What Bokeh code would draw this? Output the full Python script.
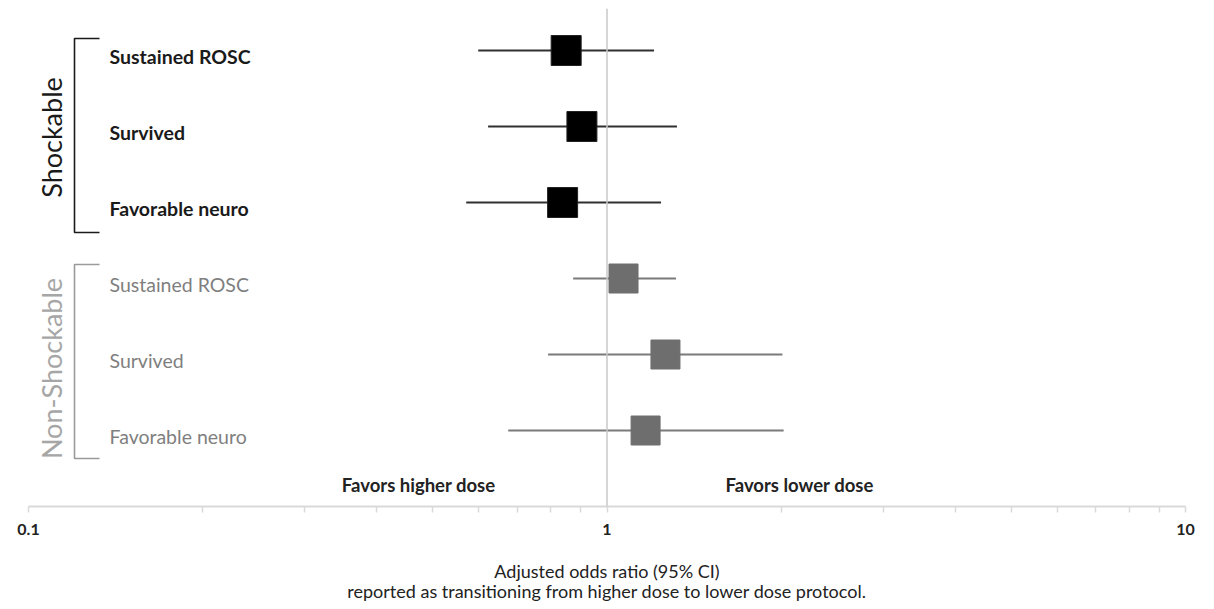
import math
from bokeh.plotting import figure
from bokeh.models import Range1d, FixedTicker, CustomJSTickFormatter, Span
from bokeh.core.properties import value
from bokeh.embed import file_html
from bokeh.resources import INLINE

# ---- data ----
groups = ["Shockable", "Non-Shockable"]
outcomes = ["Sustained ROSC", "Survived", "Favorable neuro"]
shock_or = [0.850, 0.905, 0.838]
shock_lo = [0.599, 0.623, 0.571]
shock_hi = [1.206, 1.321, 1.240]
nonshock_or = [1.068, 1.262, 1.166]
nonshock_lo = [0.874, 0.791, 0.675]
nonshock_hi = [1.316, 2.010, 2.020]
tick_values = [0.1, 1, 10]
tick_labels = ["0.1", "1", "10"]
minor_tick_values = [0.2, 0.3, 0.4, 0.5, 0.6, 0.7, 0.8, 0.9, 2, 3, 4, 5, 6, 7, 8, 9]
favor_left = "Favors higher dose"
favor_right = "Favors lower dose"
x_title = "Adjusted odds ratio (95% CI)\nreported as transitioning from higher dose to lower dose protocol."

FONT = "Lato"
W, H = 1206, 605
ML, MR, MT, MB = 28, 21, 8, 99
frame_w = W - ML - MR

def px_x(px):
    # canvas pixel -> data x (layout helper for annotations)
    return 0.1 * 100 ** ((px - ML) / frame_w)

ROW0, PITCH = 50, 76
def px_y(py):
    return (py - ROW0) / PITCH

p = figure(width=W, height=H, x_axis_type="log", output_backend="svg",
           toolbar_location=None, x_range=Range1d(0.1, 10),
           y_range=Range1d(px_y(H - MB), px_y(MT)),
           min_border_left=ML, min_border_right=MR, min_border_top=MT, min_border_bottom=MB)
p.outline_line_color = None
p.grid.visible = False
p.yaxis.visible = False
p.background_fill_color = "white"
p.border_fill_color = "white"

ax = p.xaxis[0]
ax.ticker = FixedTicker(ticks=tick_values, minor_ticks=minor_tick_values)
ax.formatter = CustomJSTickFormatter(args=dict(vals=tick_values, labs=tick_labels),
    code="for (let i=0;i<vals.length;i++){ if (Math.abs(tick-vals[i])<1e-9) return labs[i]; } return '';")
ax.axis_line_color = "#d9d9d9"
ax.axis_line_width = 2
ax.major_tick_line_color = "#d9d9d9"
ax.minor_tick_line_color = "#d9d9d9"
ax.major_tick_line_width = 1.5
ax.minor_tick_line_width = 1.5
ax.major_tick_in = 0
ax.major_tick_out = 6
ax.minor_tick_in = 0
ax.minor_tick_out = 6
ax.major_label_text_font = FONT
ax.major_label_text_font_size = "16px"
ax.major_label_text_font_style = "bold"
ax.major_label_text_color = "#222222"
ax.major_label_standoff = 11
ax.axis_label = x_title
ax.axis_label_text_font = FONT
ax.axis_label_text_font_size = "18px"
ax.axis_label_text_font_style = "normal"
ax.axis_label_text_color = "#222222"
ax.axis_label_text_line_height = 0.95
ax.axis_label_standoff = 22

# reference line at OR = 1
p.add_layout(Span(location=1, dimension="height", line_color="#c8c8c8", line_width=1.5))

n = len(outcomes)
rows_s = list(range(n))
rows_n = [n + i for i in range(n)]

# CIs and points
p.segment(x0=shock_lo, y0=rows_s, x1=shock_hi, y1=rows_s, line_color="#303030", line_width=2.2)
p.segment(x0=nonshock_lo, y0=rows_n, x1=nonshock_hi, y1=rows_n, line_color="#7a7a7a", line_width=2.2)
p.scatter(x=shock_or, y=rows_s, marker="square", size=30, fill_color="black", line_color="#222222", line_width=1)
p.scatter(x=nonshock_or, y=rows_n, marker="square", size=29, fill_color="#6e6e6e", line_color="#6e6e6e", line_width=1)

# outcome labels
lab_x = px_x(109)
p.text(x=[lab_x] * n, y=[r + 0.08 for r in rows_s], text=outcomes, text_font=value(FONT),
       text_font_size="19.5px", text_font_style="bold", text_color="#1a1a1a",
       text_align="left", text_baseline="middle")
p.text(x=[lab_x] * n, y=[r + 0.08 for r in rows_n], text=outcomes, text_font=value(FONT),
       text_font_size="19.5px", text_font_style="normal", text_color="#7f7f7f",
       text_align="left", text_baseline="middle")

# brackets
bx0, bx1 = px_x(74), px_x(99)
for (top, bot, col) in [(px_y(38), px_y(232), "#1a1a1a"), (px_y(264), px_y(458), "#9a9a9a")]:
    p.line(x=[bx1, bx0, bx0, bx1], y=[top, top, bot, bot], line_color=col, line_width=1.6)

# group labels (rotated)
p.text(x=[px_x(51)], y=[px_y(137)], text=[groups[0]], angle=math.pi / 2, text_font=value(FONT),
       text_font_size="27px", text_color="#1a1a1a", text_align="center", text_baseline="middle")
p.text(x=[px_x(51)], y=[px_y(368)], text=[groups[1]], angle=math.pi / 2, text_font=value(FONT),
       text_font_size="27px", text_color="#a6a6a6", text_align="center", text_baseline="middle")

# favors labels
p.text(x=[px_x(495)], y=[px_y(484)], text=[favor_left], text_font=value(FONT), text_font_size="18.5px",
       text_font_style="bold", text_color="#222222", text_align="right", text_baseline="middle")
p.text(x=[px_x(725)], y=[px_y(484)], text=[favor_right], text_font=value(FONT), text_font_size="18.5px",
       text_font_style="bold", text_color="#222222", text_align="left", text_baseline="middle")

open("out.html", "w").write(file_html(p, INLINE))
